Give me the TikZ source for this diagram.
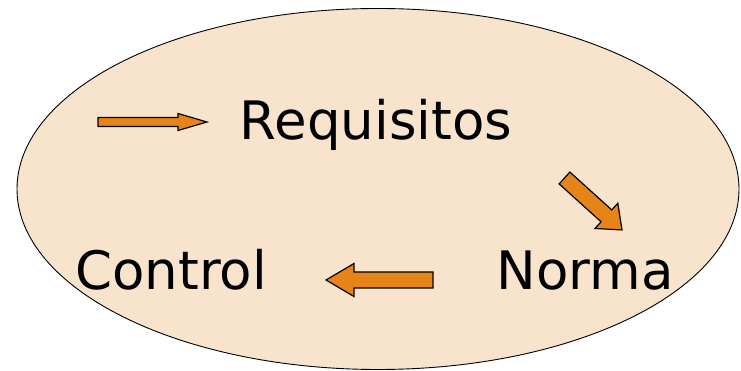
\documentclass[tikz,border=0pt]{standalone}
\usepackage{fontspec}
\setmainfont{DejaVu Sans}
\usepackage{tikz}
\usetikzlibrary{calc}

\definecolor{fondo}{HTML}{F8E4CD}
\definecolor{naranja}{HTML}{E6841A}

\tikzset{
	etiqueta/.style={anchor=base, inner sep=0pt, font=\fontsize{53}{60}\selectfont},
	% block arrow: length, shaft half width, head half width, head length
	pics/flecha/.style n args={4}{code={
		\draw[fill=naranja, line width=1.2pt, line join=miter]
			(0,-#2) -- ({#1-#4},-#2) -- ({#1-#4},-#3) -- (#1,0)
			-- ({#1-#4},#3) -- ({#1-#4},#2) -- (0,#2) -- cycle;
	}}
}

\begin{document}
\begin{tikzpicture}[x=1pt, y=1pt]
\useasboundingbox (0,0) rectangle (741,371);

\draw[fill=fondo, line width=0.9pt] (378,182) ellipse [x radius=361, y radius=180.5];

\node[etiqueta] (requisitos) at (376,231) {Requisitos};
\node[etiqueta] (norma) at (585,81) {Norma};
\node[etiqueta] (control) at (171,81) {Control};

% ---

\pic[shift={(98,249)}] (entrada) {flecha={109}{4.5}{8.5}{29}};

\pic[shift={(564.5,193)}, rotate=-42.1] (paso) {flecha={77.5}{8}{17}{21}};

\pic[shift={(433,91)}, rotate=180] (vuelta) {flecha={107}{8}{16.5}{28}};

\end{tikzpicture}
\end{document}
